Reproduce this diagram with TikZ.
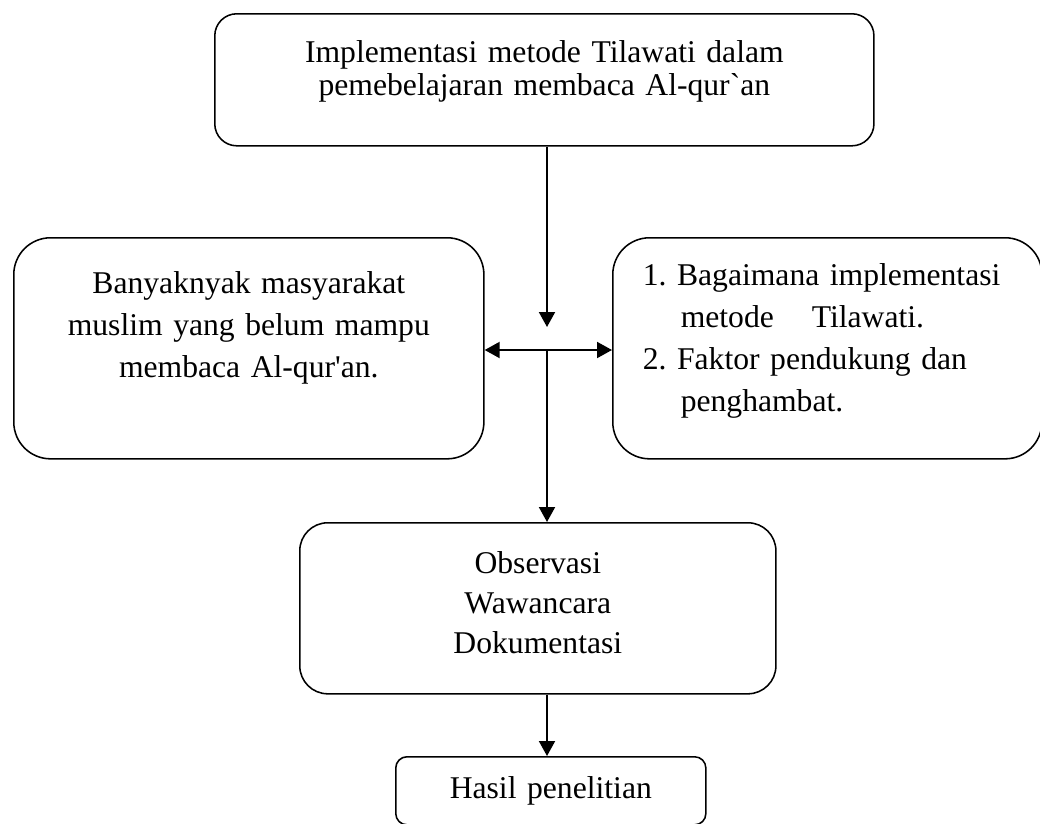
\documentclass[tikz,border=0pt]{standalone}
\usepackage{fontspec}
\setmainfont{Liberation Serif}
\usetikzlibrary{arrows.meta}

\newcommand{\boxfont}[1]{\fontsize{22.5pt}{#1}\selectfont\lineskiplimit=-30pt\frenchspacing}

\begin{document}
\begin{tikzpicture}[x=0.025cm, y=-0.025cm,
    box/.style={draw, line width=1.1pt, inner sep=0pt, anchor=north west, align=center},
    link/.style={line width=1.4pt, -{Triangle[length=0.375cm, width=0.4cm]}},
    both/.style={line width=1.4pt, {Triangle[length=0.375cm, width=0.4cm]}-{Triangle[length=0.375cm, width=0.4cm]}}]
\useasboundingbox (0,0) rectangle (1040,823);

\node[box, rounded corners=0.55cm, text width=16.475cm, text height=1.225cm, text depth=2.075cm, font=\boxfont{23.5pt}] (judul) at (214,13)
    {Implementasi metode Tilawati dalam\\pemebelajaran membaca Al-qur\textasciigrave an};
\node[box, rounded corners=0.92cm, text width=11.75cm, text height=1.4cm, text depth=4.125cm, font=\boxfont{29.9pt}] (masalah) at (13,237)
    {Banyaknyak masyarakat\\muslim yang belum mampu\\membaca Al-qur\textquotesingle an.};
\node[box, rounded corners=0.92cm, align=left, inner xsep=0.75cm, text width=9.225cm, text height=1.2cm, text depth=4.325cm, font=\boxfont{29.9pt}] (rumusan) at (612,237)
    {1. Bagaimana implementasi\\\hspace*{1.2em}metode\hspace{1.2em}Tilawati.\\2. Faktor pendukung dan\\\hspace*{1.2em}penghambat.};
\node[box, rounded corners=0.7cm, text width=11.9cm, text height=1.275cm, text depth=3.0cm, font=\boxfont{28.45pt}] (metode) at (299,522)
    {Observasi\\Wawancara\\Dokumentasi};
\node[box, rounded corners=0.28cm, text width=7.75cm, text height=1.05cm, text depth=0.65cm, font=\boxfont{28pt}] (hasil) at (395,756)
    {Hasil penelitian};

\coordinate (simpul) at (547,350);
\coordinate (ujung) at (547,327);

\draw[link] (judul.south -| simpul) -- (ujung);
\draw[both] (masalah.east |- simpul) -- (rumusan.west |- simpul);
\draw[link] (simpul) -- (metode.north -| simpul);
\draw[link] (metode.south -| simpul) -- (hasil.north -| simpul);

\end{tikzpicture}
\end{document}
